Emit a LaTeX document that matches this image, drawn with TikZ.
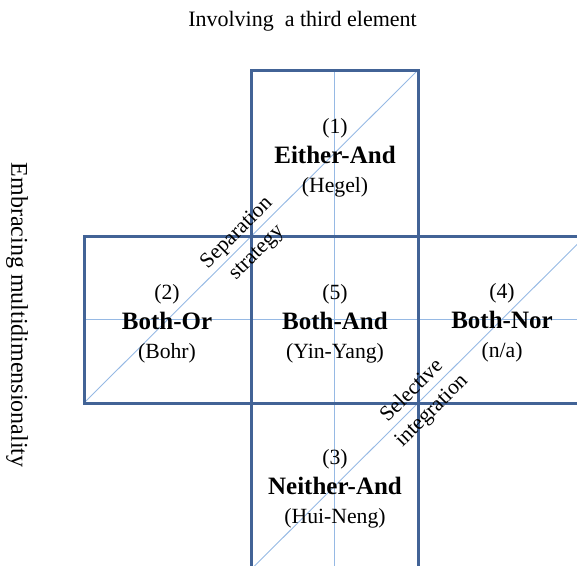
\documentclass[tikz,border=0pt]{standalone}
\usepackage{fontspec}
\setmainfont{Liberation Serif}
\usetikzlibrary{backgrounds}
\definecolor{boxblue}{RGB}{66,99,150}
\definecolor{thinblue}{RGB}{150,185,228}
\newcommand{\cellname}[1]{{\fontsize{25}{29.5}\selectfont\bfseries #1}}
\tikzset{
  quad/.style={draw=boxblue, line width=3pt, minimum width=167pt, minimum height=166.5pt, inner sep=0pt, outer sep=0pt},
  guide/.style={draw=thinblue, line width=0.9pt},
  celltext/.style={align=center, font=\fontsize{21.7}{29.5}\selectfont, inner sep=0pt},
  difftext/.style={align=center, font=\fontsize{21.5}{28}\selectfont, inner sep=0pt, rotate=45},
  axistext/.style={font=\fontsize{22}{26}\selectfont, inner sep=0pt}
}
\begin{document}
\begin{tikzpicture}[x=1pt, y=-1pt]
\useasboundingbox (0,0) rectangle (577,565);
\clip (0,0) rectangle (577,565);
% boxes
\node[quad] (b1) at (334.5,153.25) {};
\node[quad] (b2) at (167.5,319.75) {};
\node[quad] (b5) at (334.5,319.75) {};
\node[quad] (b4) at (501.5,319.75) {};
\node[quad] (b3) at (334.5,486.25) {};
% guide lines behind
\begin{scope}[on background layer]
\draw[guide] (b1.north) -- (b3.south);
\draw[guide] (b2.west) -- (b4.east);
\draw[guide] (b2.south west) -- (b1.north east);
\draw[guide] (b3.south west) -- (b4.north east);
\end{scope}
% cell texts
\node[celltext] (t1) at (335,158) {(1)\\\cellname{Either-And}\\(Hegel)};
\node[celltext] (t2) at (167,324) {(2)\\\cellname{Both-Or}\\(Bohr)};
\node[celltext] (t5) at (335,324) {(5)\\\cellname{Both-And}\\(Yin-Yang)};
\node[celltext] (t4) at (502,323) {(4)\\\cellname{Both-Nor}\\(n/a)};
\node[celltext] (t3) at (335,489) {(3)\\\cellname{Neither-And}\\(Hui-Neng)};
% diagonal labels
\node[difftext] (sep) at (247,243) {Separation\\strategy};
\node[difftext] (sel) at (422,401) {Selective\\integration};
% axis labels
\node[axistext] (top) at (302.5,21) {Involving\hspace{0.5em}a third element};
\node[axistext, font=\fontsize{24}{28}\selectfont, rotate=-90] (left) at (17,315) {Embracing multidimensionality};
\end{tikzpicture}
\end{document}
